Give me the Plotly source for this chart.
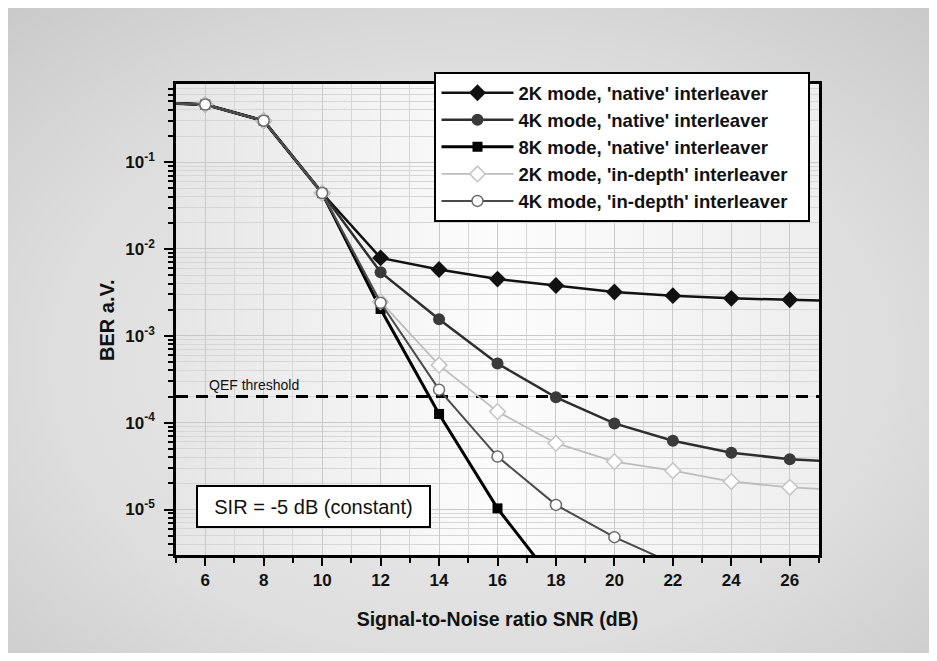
import base64
import numpy as np
import plotly.graph_objects as go

# ---- data ----
snr = [4, 6, 8, 10, 12, 14, 16, 18, 20, 22, 24, 26, 28]
ber_2k_native = [0.49, 0.46, 0.30, 0.044, 7.9e-3, 5.8e-3, 4.5e-3, 3.8e-3, 3.2e-3, 2.9e-3, 2.7e-3, 2.6e-3, 2.5e-3]
ber_4k_native = [0.49, 0.46, 0.30, 0.044, 5.4e-3, 1.55e-3, 4.8e-4, 1.96e-4, 9.8e-5, 6.2e-5, 4.5e-5, 3.8e-5, 3.5e-5]
snr_8k = [4, 6, 8, 10, 12, 14, 16, 18]
ber_8k_native = [0.49, 0.46, 0.30, 0.044, 2.04e-3, 1.26e-4, 1.03e-5, 1.4e-6]
ber_2k_indepth = [0.49, 0.46, 0.30, 0.044, 2.47e-3, 4.6e-4, 1.34e-4, 5.8e-5, 3.56e-5, 2.8e-5, 2.1e-5, 1.8e-5, 1.65e-5]
snr_4k_id = [4, 6, 8, 10, 12, 14, 16, 18, 20, 22]
ber_4k_indepth = [0.49, 0.46, 0.30, 0.044, 2.4e-3, 2.4e-4, 4.07e-5, 1.13e-5, 4.8e-6, 2.4e-6]
qef_threshold = 2e-4
x_range = [5, 27]
y_range_log = [-5.524, -0.10]
y_tickvals = [1e-1, 1e-2, 1e-3, 1e-4, 1e-5]
y_ticktext = ["10<sup>-1</sup>", "10<sup>-2</sup>", "10<sup>-3</sup>", "10<sup>-4</sup>", "10<sup>-5</sup>"]

names = ["2K mode, 'native' interleaver", "4K mode, 'native' interleaver",
         "8K mode, 'native' interleaver", "2K mode, 'in-depth' interleaver",
         "4K mode, 'in-depth' interleaver"]
PAD = "\u00a0\u00a0\u00a0"

FONT = "Liberation Sans, Arial, sans-serif"
W, H = 922, 645
ML, MR, MT, MB = 168, 111, 76, 98
PW, PH = W - ML - MR, H - MT - MB


def svg_uri(svg):
    return "data:image/svg+xml;base64," + base64.b64encode(svg.encode()).decode()


paper_svg = ('<svg xmlns="http://www.w3.org/2000/svg" viewBox="0 0 100 100" preserveAspectRatio="none">'
             '<defs><radialGradient id="g" cx="0.5" cy="0.55" r="0.75">'
             '<stop offset="0" stop-color="#eeeeee"/><stop offset="0.6" stop-color="#dedede"/>'
             '<stop offset="1" stop-color="#c9c9c9"/></radialGradient></defs>'
             '<rect width="100" height="100" fill="url(#g)"/></svg>')
plot_svg = ('<svg xmlns="http://www.w3.org/2000/svg" viewBox="0 0 100 100" preserveAspectRatio="none">'
            '<defs><linearGradient id="h" x1="0" y1="0" x2="1" y2="0">'
            '<stop offset="0" stop-color="#e6e6e6"/><stop offset="0.5" stop-color="#fcfcfc"/>'
            '<stop offset="1" stop-color="#eeeeee"/></linearGradient></defs>'
            '<rect width="100" height="100" fill="url(#h)"/></svg>')

fig = go.Figure()

fig.add_trace(go.Scatter(x=x_range, y=[qef_threshold, qef_threshold], mode="lines",
                         line=dict(color="black", width=3, dash="12px,8px"),
                         showlegend=False, hoverinfo="skip"))

fig.add_trace(go.Scatter(x=snr, y=ber_2k_native, name=names[0] + PAD, mode="lines+markers",
                         line=dict(color="#111111", width=2.5),
                         marker=dict(symbol="diamond", size=13, color="#111111")))
fig.add_trace(go.Scatter(x=snr, y=ber_4k_native, name=names[1] + PAD, mode="lines+markers",
                         line=dict(color="#2e2e2e", width=2.5),
                         marker=dict(symbol="circle", size=12, color="#3a3a3a")))
fig.add_trace(go.Scatter(x=snr_8k, y=ber_8k_native, name=names[2] + PAD, mode="lines+markers",
                         line=dict(color="#000000", width=3),
                         marker=dict(symbol="square", size=10, color="#000000")))
fig.add_trace(go.Scatter(x=snr, y=ber_2k_indepth, name=names[3] + PAD, mode="lines+markers",
                         line=dict(color="#bdbdbd", width=1.8),
                         marker=dict(symbol="diamond", size=12, color="white",
                                     line=dict(color="#c4c4c4", width=1.5))))
fig.add_trace(go.Scatter(x=snr_4k_id, y=ber_4k_indepth, name=names[4] + PAD, mode="lines+markers",
                         line=dict(color="#4a4a4a", width=2),
                         marker=dict(symbol="circle", size=11, color="white",
                                     line=dict(color="#6a6a6a", width=1.5))))

images = [
    dict(source=svg_uri(paper_svg), xref="paper", yref="paper",
         x=-ML / PW, y=1 + MT / PH, sizex=W / PW, sizey=H / PH,
         xanchor="left", yanchor="top", sizing="stretch", layer="below"),
    dict(source=svg_uri(plot_svg), xref="paper", yref="paper",
         x=0, y=1, sizex=1, sizey=1,
         xanchor="left", yanchor="top", sizing="stretch", layer="below"),
]

annotations = [
    dict(text="QEF threshold", x=6.05, y=np.log10(qef_threshold), xref="x", yref="y",
         xanchor="left", yanchor="bottom", yshift=2, showarrow=False,
         font=dict(family=FONT, size=14, color="#111")),
    dict(text="SIR = -5 dB (constant)", x=9.69, y=-4.97, xref="x", yref="y",
         showarrow=False, bgcolor="white", bordercolor="black", borderwidth=2,
         borderpad=3, width=225, height=33,
         font=dict(family=FONT, size=20, color="#111")),
    dict(text="BER a.V.", textangle=-90, xref="paper", yref="paper",
         x=(99 - ML) / PW, y=1 - (312 - MT) / PH, xanchor="center", yanchor="middle",
         showarrow=False, font=dict(family=FONT, size=20, color="#111", weight="bold")),
]

fig.update_layout(
    width=W, height=H,
    margin=dict(l=ML, r=MR, t=MT, b=MB),
    paper_bgcolor="#d7d7d7",
    plot_bgcolor="rgba(0,0,0,0)",
    images=images,
    annotations=annotations,
    font=dict(family=FONT, color="#111"),
    showlegend=True,
    legend=dict(x=0.402, y=1.025, xanchor="left", yanchor="top",
                bgcolor="white", bordercolor="black", borderwidth=2,
                font=dict(family=FONT, size=18.5, color="#111", weight="bold"),
                tracegroupgap=0, itemwidth=72),
    xaxis=dict(
        range=x_range, tick0=6, dtick=2,
        ticks="outside", ticklen=8, tickwidth=2, tickcolor="black",
        showline=True, linecolor="black", linewidth=2.5, mirror=True,
        showgrid=True, gridcolor="#c9c9c9", gridwidth=1,
        minor=dict(dtick=1, ticks="outside", ticklen=5, tickwidth=2, tickcolor="black",
                   showgrid=True, gridcolor="#d6d6d6", gridwidth=1),
        tickfont=dict(family=FONT, size=17, color="#111", weight="bold"),
        ticklabelstandoff=0,
        title=dict(text="Signal-to-Noise ratio SNR (dB)", standoff=24,
                   font=dict(family=FONT, size=19.5, color="#111", weight="bold")),
        zeroline=False,
    ),
    yaxis=dict(
        type="log", range=y_range_log, tickvals=y_tickvals, ticktext=y_ticktext,
        ticks="outside", ticklen=9, tickwidth=2, tickcolor="black",
        showline=True, linecolor="black", linewidth=2.5, mirror=True,
        showgrid=True, gridcolor="#c9c9c9", gridwidth=1,
        minor=dict(ticks="outside", ticklen=5, tickwidth=2, tickcolor="black",
                   showgrid=True, gridcolor="#d6d6d6", gridwidth=1, dtick="D1"),
        tickfont=dict(family=FONT, size=17, color="#111", weight="bold"),
        ticklabelstandoff=6,
        zeroline=False,
    ),
)

fig.write_html("out.html")
